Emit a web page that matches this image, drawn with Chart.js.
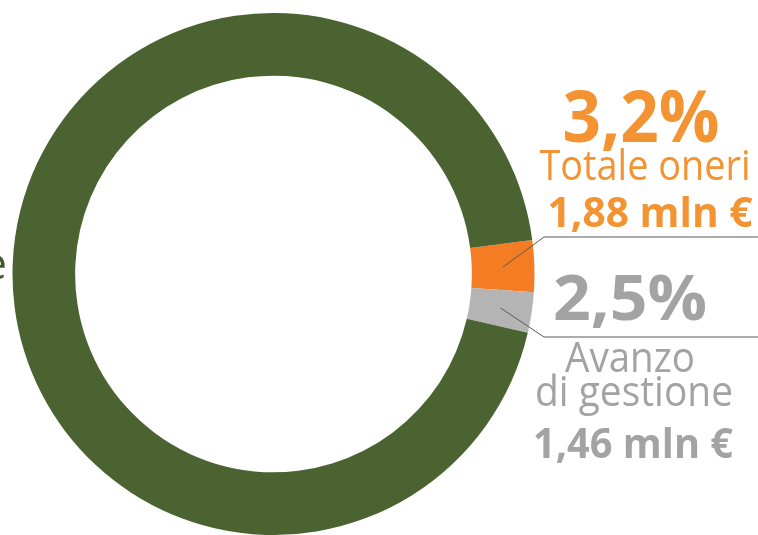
<!DOCTYPE html>
<html>
<head>
<meta charset="utf-8">
<script src="https://cdn.jsdelivr.net/npm/chart.js@4/dist/chart.umd.min.js"></script>
<style>
  html, body { margin: 0; padding: 0; background: #fff; overflow: hidden; }
  canvas { display: block; }
</style>
</head>
<body>
<canvas id="oneriChart" width="758" height="535"></canvas>
<script>
// quote sul totale (%)
const categorie = ['Totale oneri', 'Avanzo di gestione', 'Altro'];
const percentuali = [3.2, 2.5, 94.3];
const importiMln = [1.88, 1.46, null];
const colori = ['#f47c22', '#b4b4b4', '#4b6330'];
const coloriTesto = ['#f39331', '#a3a3a3', '#3f5a2a'];

const fmt = (v, d) => v.toFixed(d).replace('.', ',');

// blocchi di testo a destra: x centro, baseline, dimensione, peso, larghezza
const etichette = [
    {
        gomito: [544, 237],
        righe: [
            {testo: fmt(percentuali[0], 1) + '%', x: 641, y: 142, size: 72, peso: 700, w: 157},
            {testo: 'Totale oneri', x: 645, y: 180, size: 42, peso: 500, w: 211},
            {testo: fmt(importiMln[0], 2) + ' mln €', x: 650, y: 227, size: 42, peso: 700, w: 205}
        ]
    },
    {
        gomito: [544, 337],
        righe: [
            {testo: fmt(percentuali[1], 1) + '%', x: 630, y: 320, size: 63, peso: 700, w: 154},
            {testo: 'Avanzo', x: 630, y: 372, size: 42, peso: 500, w: 130},
            {testo: 'di gestione', x: 634, y: 406, size: 42, peso: 500, w: 198},
            {testo: fmt(importiMln[1], 2) + ' mln €', x: 633, y: 458, size: 41, peso: 700, w: 200}
        ]
    }
];

function scriviRiga(ctx, r, colore) {
    ctx.font = r.peso + ' ' + r.size + 'px "Open Sans"';
    const m = ctx.measureText(r.testo).width;
    ctx.save();
    ctx.translate(r.x, r.y);
    ctx.scale(r.w / m, 1);
    ctx.fillStyle = colore;
    ctx.textAlign = 'center';
    ctx.textBaseline = 'alphabetic';
    ctx.fillText(r.testo, 0, 0);
    ctx.restore();
}

const etichettePlugin = {
    id: 'etichette',
    afterDraw(chart) {
        const ctx = chart.ctx;
        const archi = chart.getDatasetMeta(0).data;
        etichette.forEach((et, i) => {
            const p = archi[i].tooltipPosition();
            ctx.save();
            ctx.strokeStyle = '#5a5a5a';
            ctx.lineWidth = 1;
            ctx.beginPath();
            ctx.moveTo(p.x, p.y);
            ctx.lineTo(et.gomito[0], et.gomito[1]);
            ctx.lineTo(chart.width, et.gomito[1]);
            ctx.stroke();
            ctx.restore();
            et.righe.forEach(r => scriviRiga(ctx, r, coloriTesto[i]));
        });
        // coda dell'etichetta verde tagliata dal bordo
        ctx.save();
        ctx.font = '500 44px "Open Sans"';
        ctx.fillStyle = coloriTesto[2];
        ctx.textAlign = 'right';
        ctx.fillText('e', 7, 279);
        ctx.restore();
    }
};

function initializeChart() {
    const ctx = document.getElementById('oneriChart').getContext('2d');
    new Chart(ctx, {
        type: 'doughnut',
        data: {
            labels: categorie,
            datasets: [{
                data: percentuali,
                backgroundColor: colori,
                borderWidth: 0
            }]
        },
        options: {
            responsive: false,
            animation: false,
            rotation: 82.5,
            cutout: '76%',
            layout: {
                padding: {left: 12, right: 223, top: 13, bottom: 0}
            },
            plugins: {
                legend: {display: false},
                tooltip: {enabled: false}
            }
        },
        plugins: [etichettePlugin]
    });
}

window.onload = initializeChart;
</script>
</body>
</html>
